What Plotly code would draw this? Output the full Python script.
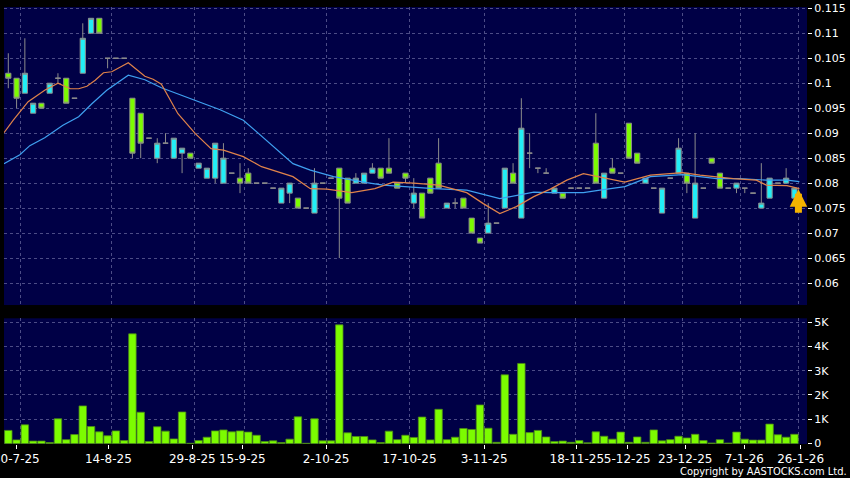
import plotly.graph_objects as go

# ---------------- data ----------------
slots = list(range(96))
opens = [0.102,0.101,0.098,0.094,0.096,0.098,0.101,0.101,0.097,0.102,
         0.110,0.113,0.105,0.105,0.105,0.097,0.094,0.089,0.085,0.088,
         0.085,0.086,0.086,0.083,0.081,0.081,0.080,0.082,0.081,0.082,
         0.080,0.080,0.079,0.076,0.078,0.077,0.075,0.074,0.080,0.081,
         0.083,0.081,0.080,0.080,0.082,0.083,0.083,0.080,0.082,0.076,
         0.078,0.081,0.084,0.075,0.076,0.077,0.073,0.069,0.070,0.072,
         0.075,0.082,0.073,0.086,0.083,0.082,0.078,0.078,0.079,0.079,
         0.079,0.088,0.077,0.083,0.082,0.092,0.086,0.080,0.079,0.074,
         0.081,0.082,0.082,0.073,0.079,0.085,0.082,0.079,0.079,0.079,
         0.078,0.075,0.077,0.080,0.080,0.077]
highs = [0.106,0.101,0.109,0.096,0.096,0.100,0.102,0.101,0.097,0.112,
         0.113,0.113,0.105,0.105,0.105,0.097,0.094,0.089,0.089,0.090,
         0.089,0.087,0.086,0.084,0.083,0.088,0.088,0.082,0.084,0.083,
         0.080,0.080,0.079,0.079,0.080,0.077,0.075,0.083,0.080,0.081,
         0.083,0.081,0.082,0.082,0.084,0.083,0.089,0.080,0.082,0.081,
         0.078,0.081,0.089,0.076,0.077,0.077,0.073,0.069,0.076,0.072,
         0.083,0.084,0.097,0.090,0.083,0.083,0.079,0.078,0.079,0.079,
         0.079,0.094,0.082,0.085,0.082,0.092,0.086,0.081,0.079,0.079,
         0.081,0.089,0.082,0.090,0.079,0.085,0.082,0.079,0.080,0.079,
         0.078,0.084,0.081,0.080,0.083,0.079]
lows = [0.099,0.095,0.098,0.094,0.095,0.098,0.100,0.096,0.097,0.102,
        0.110,0.110,0.103,0.105,0.105,0.085,0.085,0.089,0.084,0.088,
        0.085,0.082,0.085,0.083,0.081,0.080,0.080,0.082,0.078,0.080,
        0.080,0.080,0.079,0.076,0.076,0.075,0.075,0.074,0.080,0.081,
        0.065,0.076,0.080,0.080,0.082,0.081,0.082,0.079,0.080,0.075,
        0.073,0.078,0.079,0.075,0.075,0.075,0.070,0.068,0.070,0.072,
        0.075,0.080,0.073,0.083,0.082,0.082,0.078,0.077,0.079,0.079,
        0.079,0.080,0.077,0.082,0.082,0.085,0.084,0.080,0.079,0.074,
        0.081,0.082,0.078,0.073,0.079,0.084,0.079,0.079,0.078,0.078,
        0.078,0.075,0.077,0.080,0.080,0.077]
closes = [0.101,0.097,0.102,0.096,0.095,0.100,0.101,0.096,0.097,0.109,
          0.113,0.110,0.105,0.105,0.105,0.086,0.088,0.089,0.088,0.088,
          0.089,0.087,0.085,0.084,0.083,0.088,0.085,0.082,0.080,0.080,
          0.080,0.080,0.079,0.079,0.080,0.075,0.075,0.080,0.080,0.081,
          0.077,0.076,0.081,0.082,0.083,0.081,0.082,0.079,0.081,0.078,
          0.073,0.078,0.079,0.076,0.076,0.075,0.070,0.068,0.072,0.072,
          0.083,0.080,0.091,0.086,0.083,0.082,0.079,0.077,0.079,0.079,
          0.079,0.080,0.082,0.082,0.082,0.085,0.084,0.081,0.079,0.079,
          0.081,0.087,0.080,0.080,0.079,0.084,0.079,0.079,0.080,0.079,
          0.078,0.076,0.081,0.080,0.081,0.079]
volumes = [540,150,770,100,100,40,1020,160,370,1550,
           700,480,320,520,120,4520,1290,80,690,510,
           190,1300,10,120,260,520,560,480,520,470,
           340,80,110,40,180,1100,10,1020,110,110,
           4890,440,290,290,150,40,510,160,340,250,
           1090,150,1410,160,260,620,580,1590,630,50,
           2830,380,3300,450,540,270,80,100,50,120,
           30,480,300,180,470,50,270,50,560,110,
           160,300,230,380,120,20,160,20,470,180,
           140,140,800,360,260,380]

ma_short_x = [-0.52,0.6,2.4,4.4,6.0,7.5,8.5,9.5,10.5,11.5,12.5,14.5,16.5,17.5,18.5,
              20.5,22.6,24.5,26.0,28.4,30.6,34.4,36.5,38.5,41.5,44.3,46.5,49.0,52.0,
              55.4,57.4,59.4,61.4,63.5,65.5,67.5,69.5,71.5,74.5,77.6,81.5,83.6,87.6,
              90.4,91.6,94.1,95.6]
ma_short_y = [0.0901,0.0926,0.0963,0.0986,0.1000,0.0989,0.0989,0.0994,0.1006,0.1021,
              0.1023,0.1041,0.1014,0.1008,0.0998,0.0939,0.0899,0.0869,0.0866,0.0853,
              0.0833,0.0813,0.0789,0.0788,0.0781,0.0789,0.0802,0.0800,0.0796,0.0781,
              0.0759,0.0739,0.0753,0.0773,0.0788,0.0806,0.0819,0.0812,0.0802,0.0816,
              0.0821,0.0816,0.0809,0.0806,0.0796,0.0795,0.0789]
ma_long_x = [-0.52,1.4,2.6,4.4,6.6,8.5,10.1,11.9,14.5,16.5,18.5,20.5,22.6,25.6,28.4,
             31.2,34.4,36.5,39.3,43.3,45.3,51.4,55.4,59.4,63.5,65.5,69.5,71.5,74.5,
             77.6,81.5,85.6,88.4,91.6,94.1,95.6]
ma_long_y = [0.0839,0.0857,0.0875,0.0891,0.0916,0.0933,0.0959,0.0986,0.1016,0.1007,
             0.0991,0.0979,0.0966,0.0947,0.0926,0.0886,0.0839,0.0826,0.0813,0.0801,
             0.0796,0.0789,0.0786,0.0769,0.0782,0.0781,0.0781,0.0786,0.0793,0.0813,
             0.0817,0.0809,0.0809,0.0806,0.0806,0.0803]

date_labels = ["30-7-25","14-8-25","29-8-25","15-9-25","2-10-25","17-10-25",
               "3-11-25","18-11-25","5-12-25","23-12-25","7-1-26","26-1-26"]
date_label_pos = [0.97,12.09,22.24,28.28,38.4,48.47,57.5,68.7,74.8,81.8,88.95,95.75]
date_grid_pos = [1.5,12.5,22.5,28.5,38.5,48.5,57.5,68.5,74.5,81.5,88.5,95.5]
price_ticks = [0.06,0.065,0.07,0.075,0.08,0.085,0.09,0.095,0.1,0.105,0.11,0.115]
vol_ticks = [0,1000,2000,3000,4000,5000]
vol_tick_text = ["0","1K","2K","3K","4K","5K"]

# ---------------- styling ----------------
BG = "#000000"
PLOT_BG = "#000046"
GRID = "#4c4c86"
TXT = "#ffffff"
CYAN = "#22eef6"
GREEN = "#7cfc00"
EDGE = "#8c8c8c"
FONT = "DejaVu Sans"
XR = [-0.52, 96.52]

fig = go.Figure()
fig.add_trace(go.Candlestick(
    x=slots, open=opens, high=highs, low=lows, close=closes,
    increasing=dict(line=dict(color=EDGE, width=1), fillcolor=CYAN),
    decreasing=dict(line=dict(color=EDGE, width=1), fillcolor=GREEN),
    whiskerwidth=0, xaxis="x", yaxis="y", showlegend=False, hoverinfo="skip"))
fig.add_trace(go.Scatter(x=ma_long_x, y=ma_long_y, mode="lines",
                         line=dict(color="#3fa0f0", width=1.2),
                         xaxis="x", yaxis="y", showlegend=False, hoverinfo="skip"))
fig.add_trace(go.Scatter(x=ma_short_x, y=ma_short_y, mode="lines",
                         line=dict(color="#e0834a", width=1.2),
                         xaxis="x", yaxis="y", showlegend=False, hoverinfo="skip"))
fig.add_trace(go.Bar(x=slots, y=volumes, marker=dict(color=GREEN, line=dict(color="#4e8c18", width=0.8)),
                     xaxis="x2", yaxis="y2", showlegend=False, hoverinfo="skip"))
# invisible trace so that the label axis is drawn
fig.add_trace(go.Scatter(x=[XR[0], XR[1]], y=[0, 0], mode="markers", marker=dict(opacity=0),
                         xaxis="x3", yaxis="y2", showlegend=False, hoverinfo="skip"))

grid_common = dict(showgrid=True, gridcolor=GRID, griddash="3px,3px", gridwidth=1,
                   zeroline=False, automargin=False, showline=False)

fig.update_layout(
    width=850, height=478,
    paper_bgcolor=BG, plot_bgcolor=PLOT_BG,
    margin=dict(l=4, r=43, t=7, b=34, autoexpand=False),
    font=dict(family=FONT, color=TXT, size=11),
    boxgap=0.1, bargap=0.1,
    xaxis=dict(domain=[0, 1], anchor="y", range=XR, tickmode="array", tickvals=date_grid_pos,
               showticklabels=False, ticks="", rangeslider=dict(visible=False), **grid_common),
    yaxis=dict(domain=[0.318, 1], anchor="x", side="right", range=[0.0556, 0.11526],
               tickmode="array", tickvals=price_ticks, ticktext=[f"{v:g}" for v in price_ticks],
               ticks="outside", ticklen=4, tickcolor=TXT, tickfont=dict(size=11, color=TXT),
               ticklabeloverflow="allow", **grid_common),
    xaxis2=dict(domain=[0, 1], anchor="y2", range=XR, tickmode="array", tickvals=date_grid_pos,
                showticklabels=False, ticks="", **grid_common),
    yaxis2=dict(domain=[0, 0.2876], anchor="x2", side="right", range=[-20, 5160],
                tickmode="array", tickvals=vol_ticks, ticktext=vol_tick_text,
                ticks="outside", ticklen=4, tickcolor=TXT, tickfont=dict(size=11, color=TXT),
                ticklabeloverflow="allow", **grid_common),
    xaxis3=dict(overlaying="x2", anchor="y2", side="bottom", range=XR, tickmode="array",
                tickvals=date_label_pos, ticktext=date_labels, showgrid=False, zeroline=False,
                automargin=False, tickangle=0, ticklabeloverflow="allow",
                ticks="outside", ticklen=4, tickcolor=TXT, tickfont=dict(size=12, color=TXT)),
    annotations=[
        dict(x=slots[-1], y=closes[-1], xref="x", yref="y", text="", showarrow=True,
             ax=0, ay=26, arrowhead=2, arrowsize=0.5, arrowwidth=7, arrowcolor="#f5b400",
             xshift=4, standoff=1),
        dict(x=1.0, y=-0.0634, xref="paper", yref="paper", text="Copyright by AASTOCKS.com Ltd.",
             showarrow=False, xanchor="right", yanchor="middle", xshift=42,
             font=dict(size=11, color=TXT, family="DejaVu Sans Condensed, DejaVu Sans")),
    ],
)

fig.write_html("out.html", config={"displayModeBar": False},
               post_script="document.body.style.margin='0';document.body.style.background='#000';")
